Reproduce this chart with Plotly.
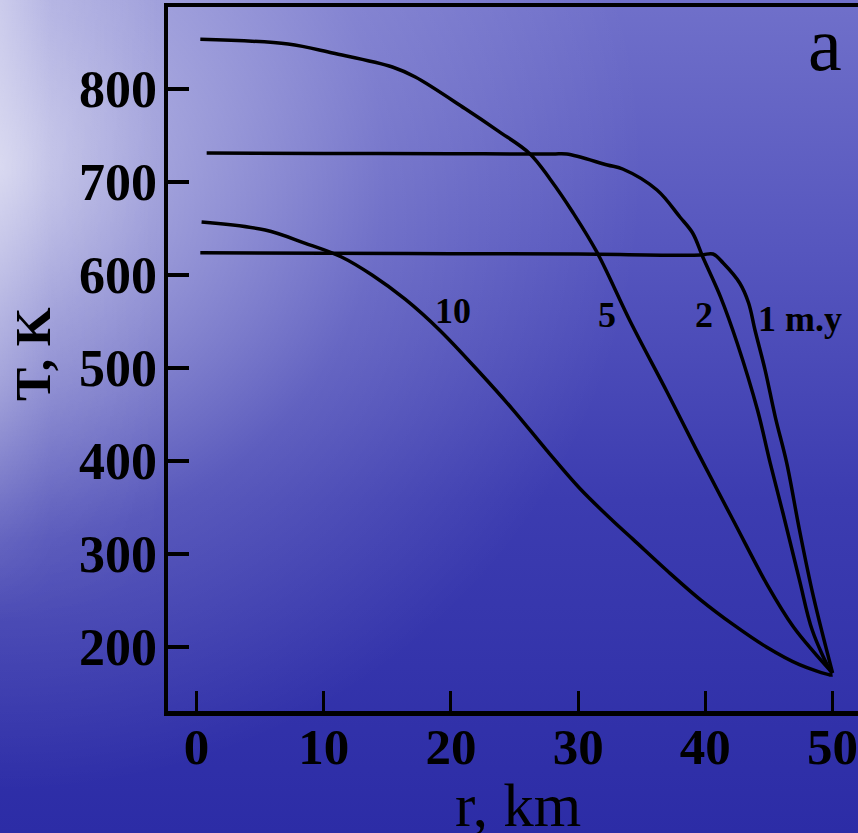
import base64
import plotly.graph_objects as go

# ---- data ----
r_1my = [0.3, 10, 20, 30, 39.6, 40.6, 41.4, 42.7, 43.4, 43.9, 44.7, 45.5, 46.4, 47.4, 48.5, 50.0]
T_1my = [624, 623.5, 623, 622.5, 621.5, 622.6, 612.9, 591.4, 569.9, 540.9, 497.8, 447.3, 397.8, 325.8, 253.8, 172]

r_2my = [0.8, 10, 20, 28.0, 29.1, 32.3, 33.5, 36.2, 38.0, 39.0, 39.8, 41.2, 42.5, 44.1, 45.1, 46.1, 47.4, 48.4, 49.8, 50.0]
T_2my = [731.2, 730.8, 730.4, 730.1, 730.1, 718.3, 714.0, 691.4, 662.4, 645.2, 619.4, 576.3, 526.9, 454.8, 397.8, 344.1, 272.0, 218.3, 175.3, 172]

r_5my = [0.3, 7.2, 10.7, 15.4, 17.2, 21.1, 23.7, 26.2, 27.8, 29.6, 31.5, 34.1, 37.0, 39.3, 42.2, 44.9, 46.9, 48.5, 50.0]
T_5my = [853.4, 848.4, 838.7, 823.7, 812.9, 779.0, 755.0, 730.5, 703.0, 667.0, 624.0, 550.0, 474.0, 412.0, 336.0, 266.0, 222.0, 195.0, 172]

r_10my = [0.4, 5.4, 8.5, 11.4, 13.8, 16.4, 19.1, 22.3, 24.9, 27.5, 30.1, 32.7, 34.3, 37.0, 39.6, 42.2, 44.8, 47.4, 49.8, 50.0]
T_10my = [657, 648.4, 634.4, 619.4, 600.0, 574.0, 540.9, 494.6, 454.8, 412.0, 371.0, 336.0, 316.0, 282.0, 251.0, 224.0, 200.0, 181.0, 170.0, 170]

curve_labels = ["10", "5", "2", "1 m.y"]
label_r = [20.2, 32.3, 39.9, 47.45]
label_T = [561, 557, 557, 553]

x_ticks = [0, 10, 20, 30, 40, 50]
y_ticks = [200, 300, 400, 500, 600, 700, 800]

# ---- background gradient (svg) ----
svg = """<svg xmlns='http://www.w3.org/2000/svg' width='858' height='833' viewBox='0 0 858 833' preserveAspectRatio='none'>
<defs>
<linearGradient id='v' x1='0' y1='0' x2='0' y2='1'>
<stop offset='0' stop-color='#7070ca'/>
<stop offset='0.3' stop-color='#5656be'/>
<stop offset='0.6' stop-color='#3c3cb0'/>
<stop offset='1' stop-color='#2c2ca6'/>
</linearGradient>
<radialGradient id='w' cx='0' cy='0.2' r='0.75' gradientUnits='objectBoundingBox'>
<stop offset='0' stop-color='#ffffff' stop-opacity='0.65'/>
<stop offset='0.25' stop-color='#ffffff' stop-opacity='0.42'/>
<stop offset='0.6' stop-color='#ffffff' stop-opacity='0.15'/>
<stop offset='1' stop-color='#ffffff' stop-opacity='0'/>
</radialGradient>
<linearGradient id='s' x1='0' y1='0' x2='1' y2='0'>
<stop offset='0' stop-color='#ffffff' stop-opacity='0.4'/>
<stop offset='0.06' stop-color='#ffffff' stop-opacity='0.15'/>
<stop offset='0.2' stop-color='#ffffff' stop-opacity='0'/>
</linearGradient>
<linearGradient id='sv' x1='0' y1='0' x2='0' y2='1'>
<stop offset='0' stop-color='#ffffff' stop-opacity='1'/>
<stop offset='0.45' stop-color='#ffffff' stop-opacity='0.6'/>
<stop offset='0.75' stop-color='#ffffff' stop-opacity='0'/>
</linearGradient>
<mask id='m'><rect width='858' height='833' fill='url(#sv)'/></mask>
</defs>
<rect width='858' height='833' fill='url(#v)'/>
<rect width='858' height='833' fill='url(#w)'/>
<rect width='858' height='833' fill='url(#s)' mask='url(#m)'/>
</svg>"""
bg_uri = "data:image/svg+xml;base64," + base64.b64encode(svg.encode()).decode()

W, H = 858, 833
ml, mr, mt, mb = 168, 0, 7, 122
pw, ph = W - ml - mr, H - mt - mb

fig = go.Figure()
line_style = dict(color="black", width=3.5, shape="spline", smoothing=1.0)
for rr, tt, nm in [(r_1my, T_1my, "1"), (r_2my, T_2my, "2"), (r_5my, T_5my, "5"), (r_10my, T_10my, "10")]:
    fig.add_trace(go.Scatter(x=rr, y=tt, mode="lines", line=line_style, name=nm,
                             showlegend=False, hoverinfo="skip"))

annos = []
for txt, xr, yt in zip(curve_labels, label_r, label_T):
    annos.append(dict(x=xr, y=yt, xref="x", yref="y", text=txt, showarrow=False,
                      font=dict(family="Liberation Serif", size=36, color="black", weight="bold"),
                      xanchor="center", yanchor="middle"))
annos.append(dict(x=(825 - ml) / pw, y=(H - mb - 44) / ph, xref="paper", yref="paper", text="a",
                  showarrow=False, font=dict(family="Liberation Serif", size=76, color="black"),
                  xanchor="center", yanchor="middle"))
annos.append(dict(x=(33 - ml) / pw, y=(H - mb - 354) / ph, xref="paper", yref="paper", text="T, K",
                  showarrow=False, textangle=-90,
                  font=dict(family="Liberation Serif", size=50, color="black", weight="bold"),
                  xanchor="center", yanchor="middle"))
annos.append(dict(x=(518 - ml) / pw, y=(H - mb - 805) / ph, xref="paper", yref="paper", text="r, km",
                  showarrow=False, font=dict(family="Liberation Serif", size=61, color="black"),
                  xanchor="center", yanchor="middle"))

fig.update_layout(
    width=W, height=H,
    margin=dict(l=ml, r=mr, t=mt, b=mb, pad=0),
    paper_bgcolor="rgba(0,0,0,0)",
    plot_bgcolor="rgba(0,0,0,0)",
    images=[dict(source=bg_uri, xref="paper", yref="paper",
                 x=-ml / pw, y=1 + mt / ph, sizex=W / pw, sizey=H / ph,
                 xanchor="left", yanchor="top", sizing="stretch", layer="below")],
    annotations=annos,
    showlegend=False,
)
fig.update_xaxes(range=[-2.24, 52.0], tickvals=x_ticks, ticktext=[str(v) for v in x_ticks],
                 ticks="inside", ticklen=20, tickwidth=3, tickcolor="black",
                 showline=True, linecolor="black", linewidth=4.5, mirror=True,
                 showgrid=False, zeroline=False, ticklabelstandoff=-13,
                 ticklabeloverflow="allow",
                 tickfont=dict(family="Liberation Serif", size=51, color="black", weight="bold"))
fig.update_yaxes(range=[131.2, 888.2], tickvals=y_ticks, ticktext=[str(v) for v in y_ticks],
                 ticks="inside", ticklen=21, tickwidth=4, tickcolor="black",
                 showline=True, linecolor="black", linewidth=4.5, mirror=False,
                 showgrid=False, zeroline=False, ticklabelstandoff=-4,
                 ticklabeloverflow="allow",
                 tickfont=dict(family="Liberation Serif", size=52, color="black", weight="bold"))

fig.write_html("out.html", config={"displayModeBar": False, "staticPlot": True},
               post_script="document.body.style.margin='0';document.body.style.background='#2c2ca6';")
